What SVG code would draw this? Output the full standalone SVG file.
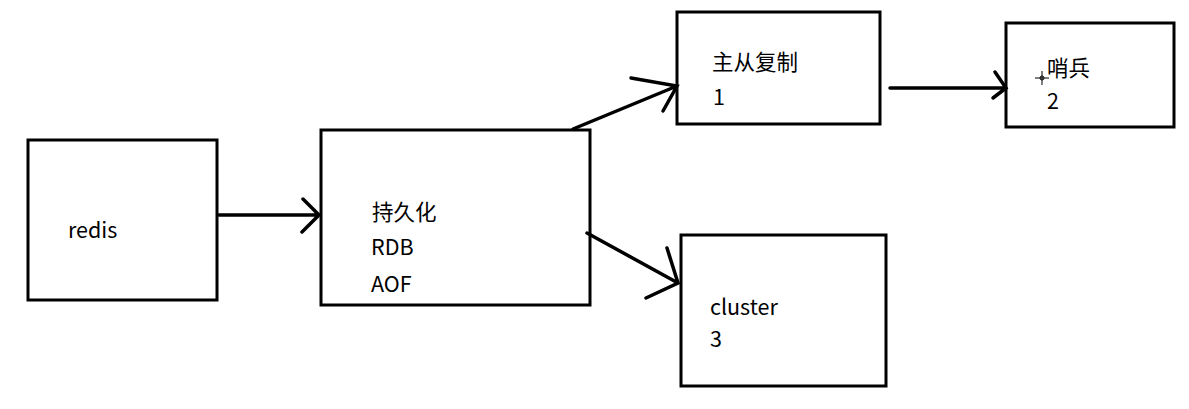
<svg xmlns="http://www.w3.org/2000/svg" width="1189" height="409" viewBox="0 0 1189 409">
<style>
.box{fill:#fff;stroke:#000;stroke-width:3}
.ln{fill:none;stroke:#000;stroke-width:3.5;stroke-linecap:round}
text{font-family:"Noto Sans CJK SC","Noto Sans",sans-serif;font-size:21.5px;fill:#000}
</style>
<rect width="1189" height="409" fill="#fff"/>
<g id="redis"><rect class="box" x="28" y="140" width="189" height="160"/><text x="68" y="238">redis</text></g>
<g id="persist"><rect class="box" x="321" y="130" width="269" height="175"/><text x="372" y="220">持久化</text><text x="371" y="255">RDB</text><text x="371" y="292">AOF</text></g>
<g id="master"><rect class="box" x="677" y="12" width="203" height="112"/><text x="712" y="70">主从复制</text><text x="713" y="105">1</text></g>
<g id="sentinel"><rect class="box" x="1006" y="23" width="168" height="104"/><text x="1047" y="76">哨兵</text><text x="1047" y="109">2</text></g>
<g id="cluster"><rect class="box" x="681" y="235" width="205" height="151"/><text x="710" y="315">cluster</text><text x="710" y="347">3</text></g>
<g id="connectors">
<path class="ln" d="M219 215 L319 215 M303 199 L319 215 L302 232"/>
<path class="ln" d="M573 129 L677 86 M631 78 L677 86 L663 111"/>
<path class="ln" d="M890 88 L1006 88 M995 72 L1006 88 L993 98"/>
<path class="ln" d="M587 233 L678 283 M667 248 L678 283 L646 298"/>
</g>
<g id="cursor" stroke="#000" stroke-width="1" fill="none"><path d="M1035 78 H1049 M1042 71 V85"/><circle cx="1042" cy="78" r="2"/></g>
</svg>
